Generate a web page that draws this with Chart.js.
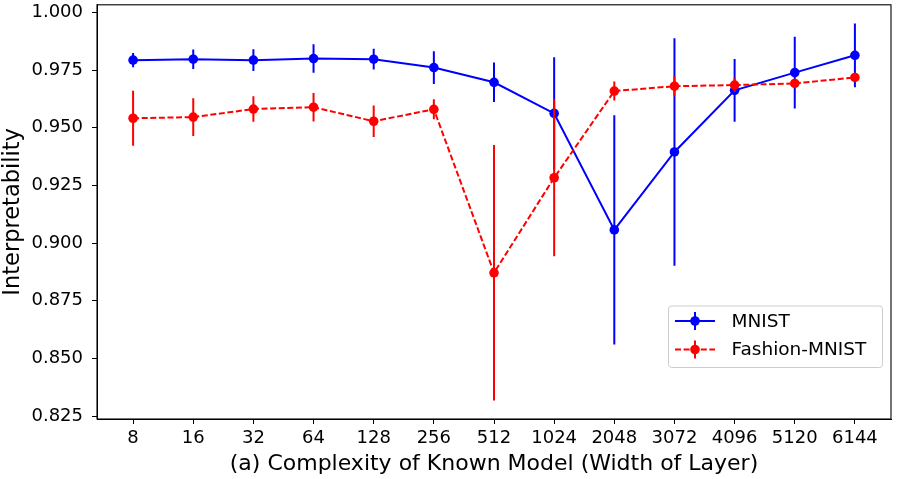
<!DOCTYPE html>
<html>
<head>
<meta charset="utf-8">
<script src="https://cdn.jsdelivr.net/npm/chart.js@4/dist/chart.umd.min.js"></script>
<style>
html,body{margin:0;padding:0;background:#fff;}
#wrap{width:899px;height:479px;}
</style>
</head>
<body>
<div id="wrap"><canvas id="c" width="899" height="479"></canvas></div>
<script>
const categories = ["8","16","32","64","128","256","512","1024","2048","3072","4096","5120","6144"];
const mnistValues = [0.9793,0.9797,0.9793,0.9800,0.9797,0.9761,0.9697,0.9562,0.9057,0.9395,0.9662,0.9739,0.9814];
const mnistErrors = [0.0031,0.0042,0.0047,0.0062,0.0045,0.0071,0.0086,0.0244,0.0497,0.0493,0.0136,0.0156,0.0138];
const fashionValues = [0.9541,0.9546,0.9581,0.9589,0.9528,0.9580,0.8871,0.9283,0.9659,0.9680,0.9685,0.9692,0.9718];
const fashionErrors = [0.0119,0.0082,0.0055,0.0062,0.0068,0.0043,0.0554,0.0340,0.0041,0.0043,0.0030,0.0020,0.0020];
const yTickValues = [0.825,0.850,0.875,0.900,0.925,0.950,0.975,1.000];
const seriesNames = ["MNIST","Fashion-MNIST"];

const FONT = "'DejaVu Sans', sans-serif";

const errorBarPlugin = {
  id: 'errorBars',
  beforeDatasetDraw(chart, args) {
    const ds = chart.data.datasets[args.index];
    if (!ds.errors) return;
    const ys = chart.scales.y;
    const ctx = chart.ctx;
    ctx.save();
    ctx.beginPath();
    ctx.rect(chart.chartArea.left, chart.chartArea.top, chart.chartArea.right - chart.chartArea.left, chart.chartArea.bottom - chart.chartArea.top);
    ctx.clip();
    ctx.strokeStyle = ds.borderColor;
    ctx.lineWidth = 2;
    ctx.setLineDash([]);
    args.meta.data.forEach((pt, i) => {
      const v = ds.data[i].y, e = ds.errors[i];
      ctx.beginPath();
      ctx.moveTo(pt.x, ys.getPixelForValue(v + e));
      ctx.lineTo(pt.x, ys.getPixelForValue(v - e));
      ctx.stroke();
    });
    ctx.restore();
  },
  afterDraw(chart) {
    const ctx = chart.ctx;
    const a = chart.chartArea;
    ctx.save();
    ctx.strokeStyle = '#000';
    ctx.lineWidth = 1.1;
    ctx.strokeRect(a.left, a.top, a.right - a.left, a.bottom - a.top);
    // legend
    const bx = 668.5, by = 306, bw = 214, bh = 61.5;
    ctx.fillStyle = 'rgba(255,255,255,0.8)';
    ctx.strokeStyle = '#cccccc';
    ctx.lineWidth = 1;
    ctx.beginPath();
    ctx.roundRect(bx, by, bw, bh, 3);
    ctx.fill();
    ctx.stroke();
    const rows = [321, 349.5];
    chart.data.datasets.forEach((ds, k) => {
      const y = rows[k];
      ctx.strokeStyle = ds.borderColor;
      ctx.fillStyle = ds.borderColor;
      ctx.lineWidth = 2;
      ctx.setLineDash(ds.borderDash || []);
      ctx.beginPath();
      ctx.moveTo(675, y);
      ctx.lineTo(715, y);
      ctx.stroke();
      ctx.setLineDash([]);
      ctx.beginPath();
      ctx.moveTo(695, y - 9);
      ctx.lineTo(695, y + 9);
      ctx.stroke();
      ctx.beginPath();
      ctx.arc(695, y, 4.8, 0, Math.PI * 2);
      ctx.fill();
      ctx.fillStyle = '#000';
      ctx.font = '18.5px ' + FONT;
      ctx.textBaseline = 'middle';
      ctx.textAlign = 'left';
      ctx.fillText(ds.label, 731.5, y + 1);
    });
    ctx.restore();
  }
};

const toPoints = arr => arr.map((v, i) => ({x: i, y: v}));

new Chart(document.getElementById('c'), {
  type: 'line',
  data: {
    datasets: [
      {
        label: seriesNames[0],
        data: toPoints(mnistValues),
        errors: mnistErrors,
        borderColor: '#0000ff',
        backgroundColor: '#0000ff',
        borderWidth: 2,
        pointRadius: 4.8,
        pointHoverRadius: 4.8,
        pointBorderWidth: 0,
        pointBackgroundColor: '#0000ff',
        tension: 0,
        order: 2
      },
      {
        label: seriesNames[1],
        data: toPoints(fashionValues),
        errors: fashionErrors,
        borderColor: '#ff0000',
        backgroundColor: '#ff0000',
        borderWidth: 2,
        borderDash: [6, 2.6],
        pointRadius: 4.8,
        pointHoverRadius: 4.8,
        pointBorderWidth: 0,
        pointBackgroundColor: '#ff0000',
        tension: 0,
        order: 1
      }
    ]
  },
  options: {
    responsive: false,
    animation: false,
    devicePixelRatio: 1,
    layout: {padding: {left: 0, right: 8, top: 3, bottom: 0}},
    plugins: {legend: {display: false}, tooltip: {enabled: false}},
    scales: {
      x: {
        type: 'linear',
        min: -0.6,
        max: 12.6,
        afterBuildTicks(scale) { scale.ticks = categories.map((c, i) => ({value: i})); },
        afterFit(scale) { scale.height = 60; scale.paddingLeft = 0; scale.paddingRight = 0; },
        ticks: {
          autoSkip: false,
          maxRotation: 0,
          color: '#000',
          font: {family: FONT, size: 18},
          padding: 4,
          callback: (v) => categories[v]
        },
        grid: {display: true, drawOnChartArea: false, drawTicks: true, tickLength: 5, color: '#000', lineWidth: 1},
        border: {display: true, color: '#000', width: 1},
        title: {display: true, text: '(a) Complexity of Known Model (Width of Layer)', color: '#000', font: {family: FONT, size: 22}, padding: {top: 0, bottom: 2}}
      },
      y: {
        type: 'linear',
        min: 0.8237,
        max: 1.0033,
        afterBuildTicks(scale) { scale.ticks = yTickValues.map(v => ({value: v})); },
        afterFit(scale) { scale.width = 97; scale.paddingTop = 0; scale.paddingBottom = 0; },
        ticks: {
          color: '#000',
          font: {family: FONT, size: 18},
          padding: 9,
          callback: (v) => Number(v).toFixed(3)
        },
        grid: {display: true, drawOnChartArea: false, drawTicks: true, tickLength: 5, color: '#000', lineWidth: 1},
        border: {display: true, color: '#000', width: 1},
        title: {display: true, text: 'Interpretability', color: '#000', font: {family: FONT, size: 22.5}, padding: {top: 0, bottom: 0}}
      }
    }
  },
  plugins: [errorBarPlugin]
});
</script>
</body>
</html>
